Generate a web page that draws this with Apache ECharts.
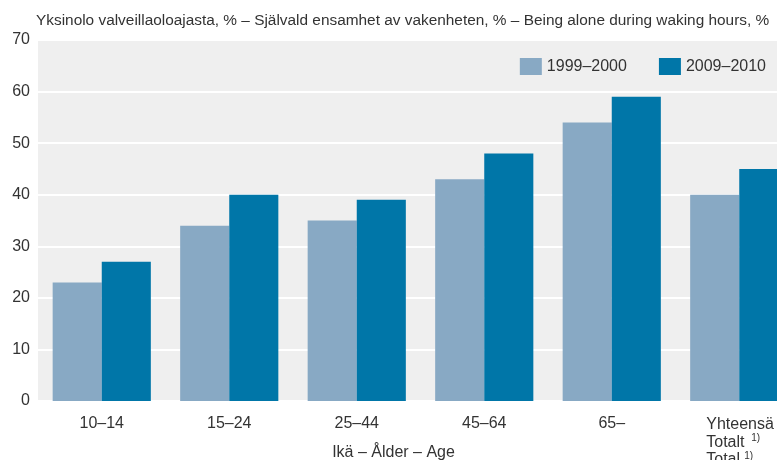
<!DOCTYPE html>
<html>
<head>
<meta charset="utf-8">
<script src="https://cdn.jsdelivr.net/npm/echarts@6/dist/echarts.min.js"></script>
<style>
  html, body {margin: 0; padding: 0; background: #fff;}
  #chart {width: 777px; height: 460px;}
</style>
</head>
<body>
<div id="chart"></div>
<script>
// ikäryhmät ja osuudet (%)
const categories = ['10–14', '15–24', '25–44', '45–64', '65–', 'Yhteensä']
const values1999 = [23, 34, 35, 43, 54, 40]
const values2009 = [27, 40, 39, 48, 59, 45]
const seriesNames = ['1999–2000', '2009–2010']
const yTicks = [0, 10, 20, 30, 40, 50, 60, 70]

const font = 'Liberation Sans'
const textColor = '#333'

let myChart = echarts.init(document.getElementById('chart'))

let options = {
  animation: false,
  textStyle: {fontFamily: font},
  title: {
    text: 'Yksinolo valveillaoloajasta, % – Självald ensamhet av vakenheten, % – Being alone during waking hours, %',
    left: 31, top: 8,
    textStyle: {fontFamily: font, fontSize: 15.4, fontWeight: 'normal', color: textColor}
  },
  legend: {
    data: seriesNames,
    right: 6, top: 53,
    itemWidth: 22, itemHeight: 17, itemGap: 32,
    icon: 'rect',
    textStyle: {fontFamily: font, fontSize: 16, color: textColor}
  },
  grid: {
    left: 38, width: 765, top: 40, height: 361,
    outerBoundsMode: 'none',
    containLabel: false,
    show: true, backgroundColor: '#efefef', borderWidth: 0
  },
  xAxis: {
    type: 'category',
    data: categories,
    axisLine: {show: false},
    axisTick: {show: false},
    axisLabel: {
      interval: 0,
      hideOverlap: false,
      margin: 15,
      fontSize: 16, color: textColor, fontFamily: font,
      formatter: function (v) {
        if (v === 'Yhteensä') return '{a|Yhteensä}\n{b|Totalt}{s|1)}\n{c|Total}{s|1)}'
        return v
      },
      rich: {
        a: {fontSize: 16, color: textColor, width: 66, align: 'left', lineHeight: 17.5},
        b: {fontSize: 16, color: textColor, width: 45, align: 'left', lineHeight: 17.5},
        c: {fontSize: 16, color: textColor, width: 38, align: 'left', lineHeight: 17.5},
        s: {fontSize: 10, color: textColor, align: 'left', verticalAlign: 'top', lineHeight: 17.5}
      }
    },
    name: 'Ikä – Ålder – Age',
    nameLocation: 'middle',
    nameGap: 44,
    nameMoveOverlap: false,
    nameTextStyle: {fontSize: 16, color: textColor, fontFamily: font, padding: [0, 54, 0, 0]}
  },
  yAxis: {
    type: 'value',
    min: yTicks[0], max: yTicks[yTicks.length - 1], interval: 10,
    axisLine: {show: false},
    axisTick: {show: false},
    axisLabel: {fontSize: 16, color: textColor, fontFamily: font, margin: 8},
    splitLine: {lineStyle: {color: '#ffffff', width: 2}}
  },
  series: [
    {
      name: seriesNames[0],
      type: 'bar',
      data: values1999,
      barGap: '0%',
      barCategoryGap: '23%',
      itemStyle: {color: '#88a9c4'}
    },
    {
      name: seriesNames[1],
      type: 'bar',
      data: values2009,
      barGap: '0%',
      barCategoryGap: '23%',
      itemStyle: {color: '#0076a8'}
    }
  ]
}

myChart.setOption(options)
</script>
</body>
</html>
